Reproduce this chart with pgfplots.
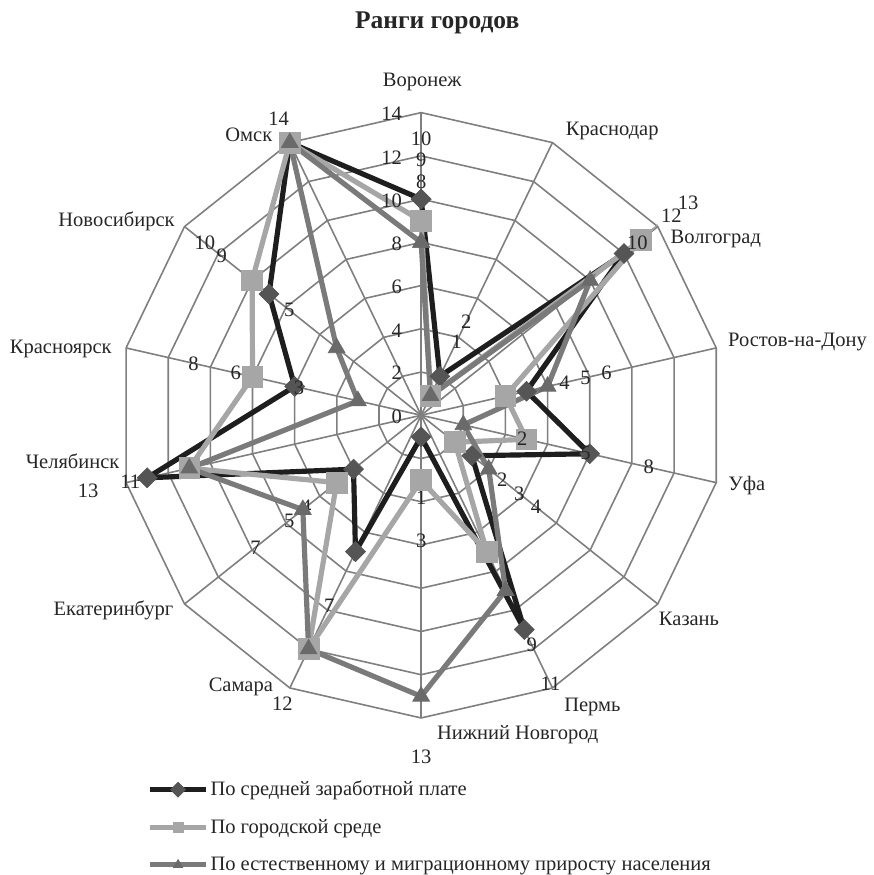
\documentclass[border=0pt]{standalone}
\usepackage{pgfplots}
\usepackage{pgfplotstable}
\pgfplotsset{compat=1.18}
\usepackage{fontspec}
\setmainfont{Liberation Serif}

\definecolor{gridc}{HTML}{7F7F7F}
\definecolor{serA}{HTML}{1E1E1E}
\definecolor{serAm}{HTML}{555555}
\definecolor{serB}{HTML}{A6A6A6}
\definecolor{serC}{HTML}{7A7A7A}
\definecolor{serCm}{HTML}{6A6A6A}
\definecolor{txt}{HTML}{262626}

\pgfplotstableread{
a w c p
90 10 9 8
64.2857 2 1 1
38.5714 12 13 10
12.8571 5 4 6
-12.8571 8 5 2
-38.5714 3 2 4
-64.2857 11 7 9
-90 1 3 13
-115.7143 7 12 12
-141.4286 4 5 7
-167.1429 13 11 11
-192.8571 6 8 3
-218.5714 9 10 5
-244.2857 14 14 14
-270 10 9 8
}\ranks

\pgfplotstableread{
a r t
90 12.8 10
64.2857 4.8 2
38.5714 14.8 12
12.8571 7.8 5
-12.8571 10.8 8
-38.5714 5.8 3
-64.2857 13.8 11
-90 3.8 1
-115.7143 9.8 7
-141.4286 6.8 4
-167.1429 15.8 13
-192.8571 8.8 6
-218.5714 11.8 9
-244.2857 15.2 14
}\labA

\pgfplotstableread{
a r t
90 11.8 9
64.2857 3.8 1
38.5714 15.8 13
12.8571 6.8 4
-12.8571 7.8 5
-38.5714 4.8 2
-90 5.8 3
-115.7143 14.8 12
-141.4286 7.8 5
-167.1429 13.8 11
-192.8571 10.8 8
-218.5714 12.8 10
}\labB

\pgfplotstableread{
a r t
90 10.8 8
38.5714 12.8 10
12.8571 8.8 6
-12.8571 4.8 2
-38.5714 6.8 4
-64.2857 11.8 9
-90 15.8 13
-141.4286 9.8 7
-192.8571 5.8 3
-218.5714 7.8 5
}\labC

\pgfplotstableread{
x y t
-0.875 -0.05 0
-0.875 1.95 2
-0.875 3.93 4
-0.875 5.93 6
-0.875 7.93 8
-0.875 9.93 10
-0.875 11.93 12
-0.875 13.93 14
}\scalelab

\begin{document}
\begin{tikzpicture}[font=\fontsize{10.3}{12.4}\selectfont, text=txt]
\begin{axis}[
  x=10.857pt, y=10.857pt,
  xmin=-19.48, xmax=20.82, ymin=-20.77, ymax=19.21,
  hide axis, clip=false,
  data cs=polar,
  legend cell align=left,
  legend style={at={(axis cs:-12.67,-16.8)}, anchor=north west, draw=none, fill=none,
    row sep=8.3pt, inner sep=0pt, nodes={inner sep=1pt, text=txt}},
  legend image code/.code={\draw[mark repeat=2,mark phase=2,#1] plot coordinates {(0pt,0pt) (14pt,0pt) (28pt,0pt)};},
  legend image post style={mark size=2.6pt},
  every node near coord/.append style={anchor=center, text=txt, inner sep=0pt},
]
% grid rings
\pgfplotsinvokeforeach{2,4,6,8,10,12,14}{
  \addplot[gridc, line width=0.8pt, forget plot] coordinates {
    (90,#1) (64.2857,#1) (38.5714,#1) (12.8571,#1) (-12.8571,#1) (-38.5714,#1) (-64.2857,#1)
    (-90,#1) (-115.7143,#1) (-141.4286,#1) (-167.1429,#1) (-192.8571,#1) (-218.5714,#1) (-244.2857,#1) (-270,#1)};
}
% spokes
\pgfplotsinvokeforeach{90,64.2857,38.5714,12.8571,-12.8571,-38.5714,-64.2857,-90,-115.7143,-141.4286,-167.1429,-192.8571,-218.5714,-244.2857}{
  \addplot[gridc, line width=0.8pt, forget plot] coordinates {(#1,0) (#1,14)};
}
% bounding box helper
\addplot[draw=none, forget plot, data cs=cart] coordinates {(-19.48,-20.77) (20.82,19.21)};
% scale labels
\addplot[draw=none, forget plot, data cs=cart, nodes near coords, point meta=explicit symbolic,
  every node near coord/.append style={anchor=east}] table[x=x, y=y, meta=t] {\scalelab};

% series 1
\addplot[serA, line width=2.6pt, mark=square*, mark size=3.5pt,
  mark options={rotate=45, fill=serAm, draw=serAm, line width=0.4pt}] table[x=a, y=w] {\ranks};
\addlegendentry{По средней заработной плате}
\addplot[draw=none, forget plot, nodes near coords, point meta=explicit symbolic] table[x=a, y=r, meta=t] {\labA};

% series 2
\addplot[serB, line width=2.6pt, mark=square*, mark size=5.2pt,
  mark options={fill=serB, draw=serB, line width=0.4pt}] table[x=a, y=c] {\ranks};
\addlegendentry{По городской среде}
\addplot[draw=none, forget plot, nodes near coords, point meta=explicit symbolic] table[x=a, y=r, meta=t] {\labB};

% series 3
\addplot[serC, line width=2.6pt, mark=triangle*, mark size=4.8pt,
  mark options={fill=serCm, draw=serCm, line width=0.4pt}] table[x=a, y=p] {\ranks};
\addlegendentry{По естественному и миграционному приросту населения}
\addplot[draw=none, forget plot, nodes near coords, point meta=explicit symbolic] table[x=a, y=r, meta=t] {\labC};

% category labels
\node at (axis cs:0.05,15.43) {Воронеж};
\node at (axis cs:8.84,13.17) {Краснодар};
\node at (axis cs:13.63,8.15) {Волгоград};
\node at (axis cs:17.41,3.41) {Ростов-на-Дону};
\node at (axis cs:15.06,-3.27) {Уфа};
\node at (axis cs:12.39,-9.44) {Казань};
\node at (axis cs:7.92,-13.50) {Пермь};
\node at (axis cs:4.47,-14.79) {Нижний Новгород};
\node at (axis cs:-8.34,-12.57) {Самара};
\node at (axis cs:-14.23,-9.03) {Екатеринбург};
\node at (axis cs:-16.12,-2.12) {Челябинск};
\node at (axis cs:-16.67,3.09) {Красноярск};
\node at (axis cs:-14.09,8.98) {Новосибирск};
\node at (axis cs:-7.97,12.99) {Омск};
% title
\node[font=\fontsize{12.8}{15}\selectfont\bfseries] at (axis cs:0.74,18.15) {Ранги городов};
\end{axis}
\end{tikzpicture}
\end{document}
